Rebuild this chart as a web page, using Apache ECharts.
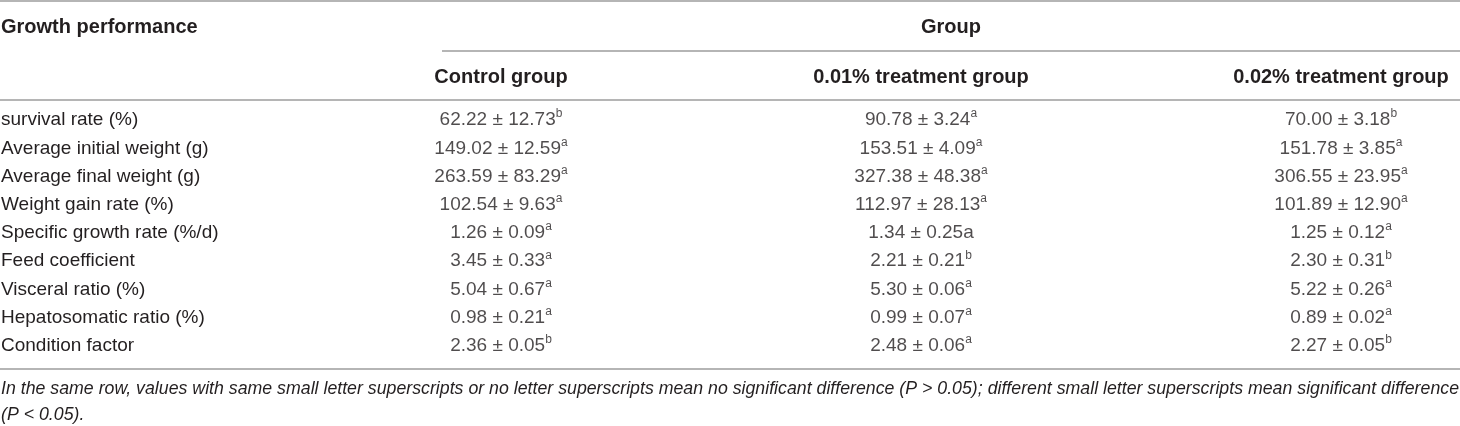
<!DOCTYPE html>
<html>
<head>
<meta charset="utf-8">
<title>Growth performance</title>
<script src="https://cdn.jsdelivr.net/npm/echarts@6/dist/echarts.min.js"></script>
<style>
  html, body { margin: 0; padding: 0; background: #fff; }
  #table { width: 1460px; height: 426px; }
</style>
</head>
<body>
<div id="table"></div>
<script>
// rows and columns of the table
var rowLabels = [
  'survival rate (%)',
  'Average initial weight (g)',
  'Average final weight (g)',
  'Weight gain rate (%)',
  'Specific growth rate (%/d)',
  'Feed coefficient',
  'Visceral ratio (%)',
  'Hepatosomatic ratio (%)',
  'Condition factor'
];
var groups = ['Control group', '0.01% treatment group', '0.02% treatment group'];

// mean ± sd and significance letter, one list per group
var controlMean = [62.22, 149.02, 263.59, 102.54, 1.26, 3.45, 5.04, 0.98, 2.36];
var controlSd   = [12.73, 12.59, 83.29, 9.63, 0.09, 0.33, 0.67, 0.21, 0.05];
var controlSig  = ['b', 'a', 'a', 'a', 'a', 'a', 'a', 'a', 'b'];

var low001Mean = [90.78, 153.51, 327.38, 112.97, 1.34, 2.21, 5.30, 0.99, 2.48];
var low001Sd   = [3.24, 4.09, 48.38, 28.13, 0.25, 0.21, 0.06, 0.07, 0.06];
var low001Sig  = ['a', 'a', 'a', 'a', 'a', 'b', 'a', 'a', 'a'];

var high002Mean = [70.00, 151.78, 306.55, 101.89, 1.25, 2.30, 5.22, 0.89, 2.27];
var high002Sd   = [3.18, 3.85, 23.95, 12.90, 0.12, 0.31, 0.26, 0.02, 0.05];
var high002Sig  = ['b', 'a', 'a', 'a', 'a', 'b', 'a', 'a', 'b'];

// cells where the source prints the letter on the baseline: [row, group]
var unraised = [[4, 1]];

var footnote = [
  'In the same row, values with same small letter superscripts or no letter superscripts mean no significant difference (P > 0.05); different small letter superscripts mean significant difference',
  '(P < 0.05).'
];

var FONT = '"Liberation Sans", Arial, Helvetica, sans-serif';
var INK = '#231f20';
var RULE = '#9d9d9d';

var means = [controlMean, low001Mean, high002Mean];
var sds = [controlSd, low001Sd, high002Sd];
var sigs = [controlSig, low001Sig, high002Sig];

function isUnraised(r, g) {
  return unraised.some(function (c) { return c[0] === r && c[1] === g; });
}

var cells = [];
groups.forEach(function (name, g) {
  rowLabels.forEach(function (label, r) {
    var txt = means[g][r].toFixed(2) + ' ± ' + sds[g][r].toFixed(2);
    var text = isUnraised(r, g) ? '{v|' + txt + sigs[g][r] + '}' : '{v|' + txt + '}{s|' + sigs[g][r] + '}';
    cells.push({ value: [g, r], text: text });
  });
});

// squeeze the footnote to the table width, like the condensed face of the source
var ctx = document.createElement('canvas').getContext('2d');
ctx.font = 'italic 18px ' + FONT;
var noteScale = 1458 / ctx.measureText(footnote[0]).width;

var chart = echarts.init(document.getElementById('table'));

chart.setOption({
  animation: false,
  grid: { left: 291, width: 1260, top: 106, height: 254, containLabel: false, outerBoundsMode: 'none' },
  xAxis: {
    type: 'category',
    position: 'top',
    data: groups,
    axisLine: { show: false },
    axisTick: { show: false },
    splitLine: { show: false },
    axisLabel: {
      margin: 29,
      verticalAlign: 'middle',
      fontFamily: FONT,
      fontWeight: 'bold',
      fontSize: 20,
      color: INK
    }
  },
  yAxis: {
    type: 'category',
    inverse: true,
    data: rowLabels,
    axisLine: { show: false },
    axisTick: { show: false },
    splitLine: { show: false },
    axisLabel: {
      align: 'left',
      margin: 290,
      fontFamily: FONT,
      fontSize: 19,
      color: INK
    }
  },
  series: [{
    type: 'scatter',
    symbolSize: 0,
    silent: true,
    data: cells,
    label: {
      show: true,
      position: 'inside',
      formatter: function (p) { return p.data.text; },
      rich: {
        v: { fontFamily: FONT, fontSize: 19, color: INK, lineHeight: 24 },
        s: { fontFamily: FONT, fontSize: 12, color: INK, lineHeight: 12, verticalAlign: 'top' }
      }
    }
  }],
  graphic: [
    { type: 'line', shape: { x1: 0, y1: 1, x2: 1460, y2: 1 }, style: { stroke: RULE, lineWidth: 1.5 } },
    { type: 'line', shape: { x1: 442, y1: 51, x2: 1460, y2: 51 }, style: { stroke: RULE, lineWidth: 1.5 } },
    { type: 'line', shape: { x1: 0, y1: 100, x2: 1460, y2: 100 }, style: { stroke: RULE, lineWidth: 1.5 } },
    { type: 'line', shape: { x1: 0, y1: 369, x2: 1460, y2: 369 }, style: { stroke: RULE, lineWidth: 1.5 } },
    {
      type: 'text', x: 1, y: 27,
      style: { text: 'Growth performance', font: 'bold 20px ' + FONT, fill: INK,
               textAlign: 'left', textVerticalAlign: 'middle' }
    },
    {
      type: 'text', x: 951, y: 27,
      style: { text: 'Group', font: 'bold 20px ' + FONT, fill: INK,
               textAlign: 'center', textVerticalAlign: 'middle' }
    },
    {
      type: 'text', x: 1, y: 389, scaleX: noteScale,
      style: { text: footnote[0], font: 'italic 18px ' + FONT, fill: INK,
               textAlign: 'left', textVerticalAlign: 'middle' }
    },
    {
      type: 'text', x: 1, y: 415, scaleX: noteScale,
      style: { text: footnote[1], font: 'italic 18px ' + FONT, fill: INK,
               textAlign: 'left', textVerticalAlign: 'middle' }
    }
  ]
});
</script>
</body>
</html>
